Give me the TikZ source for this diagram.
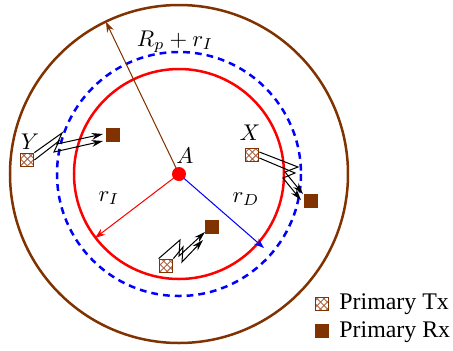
\documentclass[tikz,border=0pt]{standalone}
\usepackage{fontspec}
\setmainfont{Liberation Serif}
\usetikzlibrary{arrows.meta,patterns}
\definecolor{mybrown}{RGB}{128,51,0}
\definecolor{hatchbrown}{RGB}{170,100,70}
\tikzset{
  ring/.style={line width=1.1pt},
  txbox/.style={draw=mybrown, line width=0.5pt, pattern=crosshatch, pattern color=hatchbrown, minimum size=6pt, inner sep=0pt},
  rxbox/.style={fill=mybrown, draw=mybrown, minimum size=6pt, inner sep=0pt},
  radarrow/.style={line width=0.45pt, -{Stealth[length=4.5pt,width=3.2pt]}},
  boltline/.style={line width=0.45pt, -{Stealth[length=5pt,width=3pt]}},
  lbl/.style={inner sep=0pt}
}
\begin{document}
\begin{tikzpicture}[x=0.44pt,y=-0.44pt]
\useasboundingbox (0,0) rectangle (453,350);
\coordinate (A) at (179,174);
% circles
\draw[ring, mybrown] (A) circle[radius=169];
\draw[ring, blue, dash pattern=on 3pt off 2.2pt] (A) circle[radius=122];
\draw[ring, red] (A) circle[radius=105];
% radius arrows
\coordinate (bEnd) at (106,22);
\coordinate (rEnd) at (95,238);
\coordinate (dEnd) at (264,248);
\draw[radarrow, mybrown] (A) -- (bEnd);
\draw[radarrow, red] (A) -- (rEnd);
\draw[radarrow, blue] (A) -- (dEnd);
\fill[red] (A) circle[radius=7];
\node[lbl] (Alab) at (185,156) {$A$};
\node[lbl] (Rlab) at (175,42) {$R_p+r_I$};
\node[lbl] (rIlab) at (109,198) {$r_I$};
\node[lbl] (rDlab) at (246,199) {$r_D$};
% Tx / Rx
\node[txbox] (TY) at (27,160) {};
\node[rxbox] (RY) at (113,135) {};
\node[txbox] (TX) at (252,155) {};
\node[rxbox] (RX) at (311,201) {};
\node[txbox] (TB) at (166,266) {};
\node[rxbox] (RB) at (212,227) {};
\node[lbl] (Ylab) at (30,142) {$Y$};
\node[lbl] (Xlab) at (250,133) {$X$};
% bolts Y
\draw[boltline] (TY.north east) -- (62,133) -- (57,144) -- (103,134);
\draw[boltline] (TY.east) -- (59,141) -- (54,152) -- (103,141);
% bolts X
\draw[boltline] (TX.east) ++(0,-3) -- (298,167) -- (285,172) -- (303,194);
\draw[boltline] (TX.east) ++(0,3) -- (295,173) -- (283,178) -- (301,200);
% bolts bottom
\draw[boltline] (TB.north west) -- (180,240) -- (179,256) -- (205,232);
\draw[boltline] (TB.north east) -- (183,247) -- (182,262) -- (203,240);
% legend
\node[txbox] (LT) at (322,304) {};
\node[rxbox] (LR) at (322,331) {};
\node[anchor=west, inner sep=0pt, font=\fontsize{10.5}{12}\selectfont] (LTt) at (339,304) {Primary Tx};
\node[anchor=west, inner sep=0pt, font=\fontsize{10.5}{12}\selectfont] (LRt) at (339,332) {Primary Rx};
\end{tikzpicture}
\end{document}
